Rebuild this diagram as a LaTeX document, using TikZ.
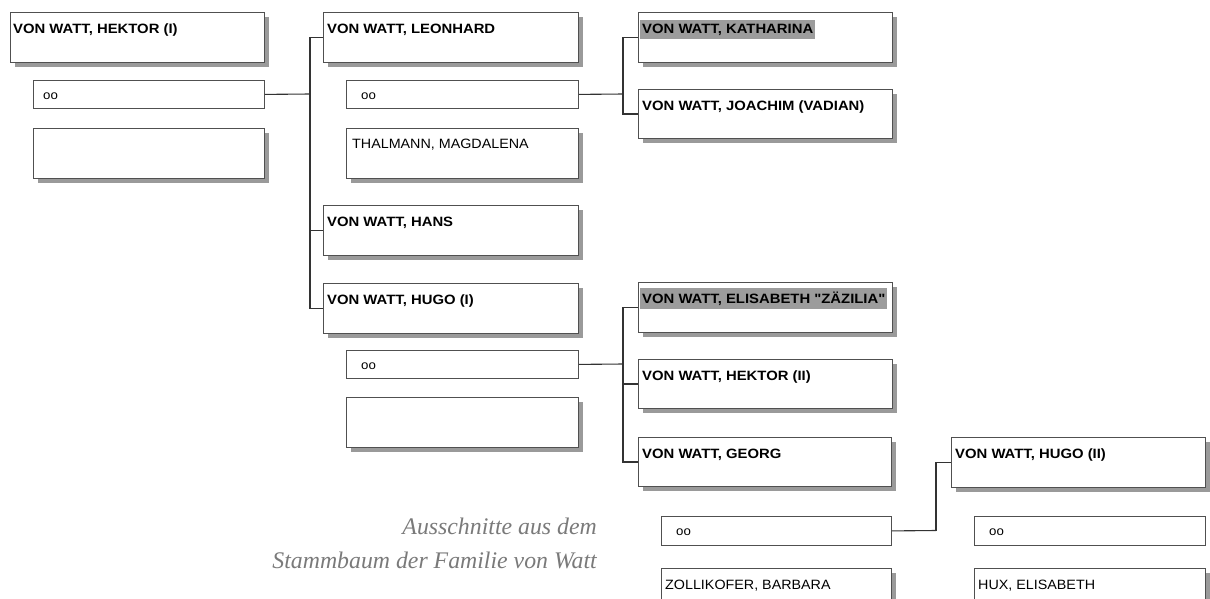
\documentclass[tikz,border=0pt]{standalone}
\usepackage{fontspec}
\setmainfont{Liberation Serif}
\newfontfamily\arialb[FakeStretch=1.1]{Liberation Sans}
\newfontfamily\arialr[FakeStretch=1.06]{Liberation Sans}
\usetikzlibrary{shadows}
\definecolor{boxc}{HTML}{505050}
\definecolor{linec}{HTML}{333333}
\definecolor{shadc}{HTML}{9A9A9A}
\definecolor{hlc}{HTML}{9C9C9C}
\definecolor{capc}{HTML}{7A7A7A}
\begin{document}
\begin{tikzpicture}[x=1pt,y=-1pt,
  pbox/.style={draw=boxc, line width=1pt, fill=white, anchor=north west, inner sep=0pt,
    minimum width=#1, minimum height=50pt,
    drop shadow={shadow xshift=4pt, shadow yshift=-4pt, fill=shadc, opacity=1}},
  pbox/.default=254pt,
  oobox/.style={draw=boxc, line width=0.8pt, fill=white, anchor=north west, inner sep=0pt,
    minimum width=#1, minimum height=28pt},
  oobox/.default=231pt,
  bname/.style={anchor=base west, inner sep=0pt, font=\arialb\bfseries\fontsize{13.5}{16}\selectfont},
  rname/.style={anchor=base west, inner sep=0pt, font=\arialr\fontsize{13.5}{16}\selectfont},
  hname/.style={bname, fill=hlc, inner xsep=2pt, inner ysep=3.5pt},
  ootext/.style={anchor=base west, inner sep=0pt, font=\arialr\fontsize{12.5}{14}\selectfont},
  conn/.style={draw=linec, line width=1.1pt},
  capt/.style={anchor=base east, inner sep=0pt, text=capc, font=\itshape\fontsize{23.8}{28}\selectfont}
]
\clip (0,0) rectangle (1210,598);
\fill[white] (0,0) rectangle (1210,598);

% generation 1
\node[pbox] (hek1) at (10,12) {};
\node[oobox] (hoo) at (33,80) {};
\node[pbox=231pt] (hsp) at (33,128) {};

% generation 2
\node[pbox=255pt] (leon) at (323,12) {};
\node[oobox=232pt] (loo) at (346,80) {};
\node[pbox=232pt] (thal) at (346,128) {};
\node[pbox=255pt] (hans) at (323,205) {};
\node[pbox=255pt] (hugoa) at (323,283) {};
\node[oobox=232pt] (hugooo) at (346,350) {};
\node[pbox=232pt] (hugosp) at (346,397) {};

% generation 3
\node[pbox] (kath) at (638,12) {};
\node[pbox, minimum height=49pt] (joach) at (638,89) {};
\node[pbox] (elis) at (638,282) {};
\node[pbox, minimum height=49pt] (hekb) at (638,359) {};
\node[pbox=253pt, minimum height=49pt] (georg) at (638,437) {};
\node[oobox=230pt, minimum height=29pt] (goo) at (661,516) {};
\node[pbox=230pt] (zoll) at (661,568) {};

% generation 4
\node[pbox] (hugob) at (951,437) {};
\node[oobox, minimum height=29pt] (hboo) at (974,516) {};
\node[pbox=231pt] (hux) at (974,568) {};

% texts
\node[bname] (thek1) at ([xshift=3pt,yshift=-21pt]hek1.north west) {VON WATT, HEKTOR (I)};
\node[ootext] (thoo) at ([xshift=10pt,yshift=-19pt]hoo.north west) {oo};
\node[bname] (tleon) at ([xshift=4pt,yshift=-21pt]leon.north west) {VON WATT, LEONHARD};
\node[ootext] (tloo) at ([xshift=15pt,yshift=-19pt]loo.north west) {oo};
\node[rname] (tthal) at ([xshift=6pt,yshift=-20pt]thal.north west) {THALMANN, MAGDALENA};
\node[bname] (thans) at ([xshift=4pt,yshift=-21pt]hans.north west) {VON WATT, HANS};
\node[bname] (thugoa) at ([xshift=4pt,yshift=-21pt]hugoa.north west) {VON WATT, HUGO (I)};
\node[ootext] (thugooo) at ([xshift=15pt,yshift=-19pt]hugooo.north west) {oo};
\node[hname] (tkath) at ([xshift=2pt,yshift=-21pt]kath.north west) {VON WATT, KATHARINA};
\node[bname] (tjoach) at ([xshift=4pt,yshift=-21pt]joach.north west) {VON WATT, JOACHIM (VADIAN)};
\node[hname] (telis) at ([xshift=2pt,yshift=-21pt]elis.north west) {VON WATT, ELISABETH "ZÄZILIA"};
\node[bname] (thekb) at ([xshift=4pt,yshift=-21pt]hekb.north west) {VON WATT, HEKTOR (II)};
\node[bname] (tgeorg) at ([xshift=4pt,yshift=-21pt]georg.north west) {VON WATT, GEORG};
\node[ootext] (tgoo) at ([xshift=15pt,yshift=-19pt]goo.north west) {oo};
\node[rname] (tzoll) at ([xshift=4pt,yshift=-21pt]zoll.north west) {ZOLLIKOFER, BARBARA};
\node[bname] (thugob) at ([xshift=4pt,yshift=-21pt]hugob.north west) {VON WATT, HUGO (II)};
\node[ootext] (thboo) at ([xshift=15pt,yshift=-19pt]hboo.north west) {oo};
\node[rname] (thux) at ([xshift=4pt,yshift=-21pt]hux.north west) {HUX, ELISABETH};

% connectors
\coordinate (ja) at (310,94);
\draw[conn] (hoo.east) -- (ja);
\draw[conn] (ja) |- (leon.west);
\draw[conn] (ja) |- (hans.west);
\draw[conn] (ja) |- (hugoa.west);

\coordinate (jb) at (623,94);
\draw[conn] (loo.east) -- (jb);
\draw[conn] (jb) |- (kath.west);
\draw[conn] (jb) |- (joach.west);

\coordinate (jc) at (623,364);
\draw[conn] (hugooo.east) -- (jc);
\draw[conn] (jc) |- (elis.west);
\draw[conn] (jc) |- (hekb.west);
\draw[conn] (jc) |- (georg.west);

\coordinate (jd) at (936,530.5);
\draw[conn] (goo.east) -- (jd);
\draw[conn] (jd) |- (hugob.west);

% caption
\node[capt] (capa) at (597,534) {Ausschnitte aus dem};
\node[capt] (capb) at (597,568) {Stammbaum der Familie von Watt};
\end{tikzpicture}
\end{document}
